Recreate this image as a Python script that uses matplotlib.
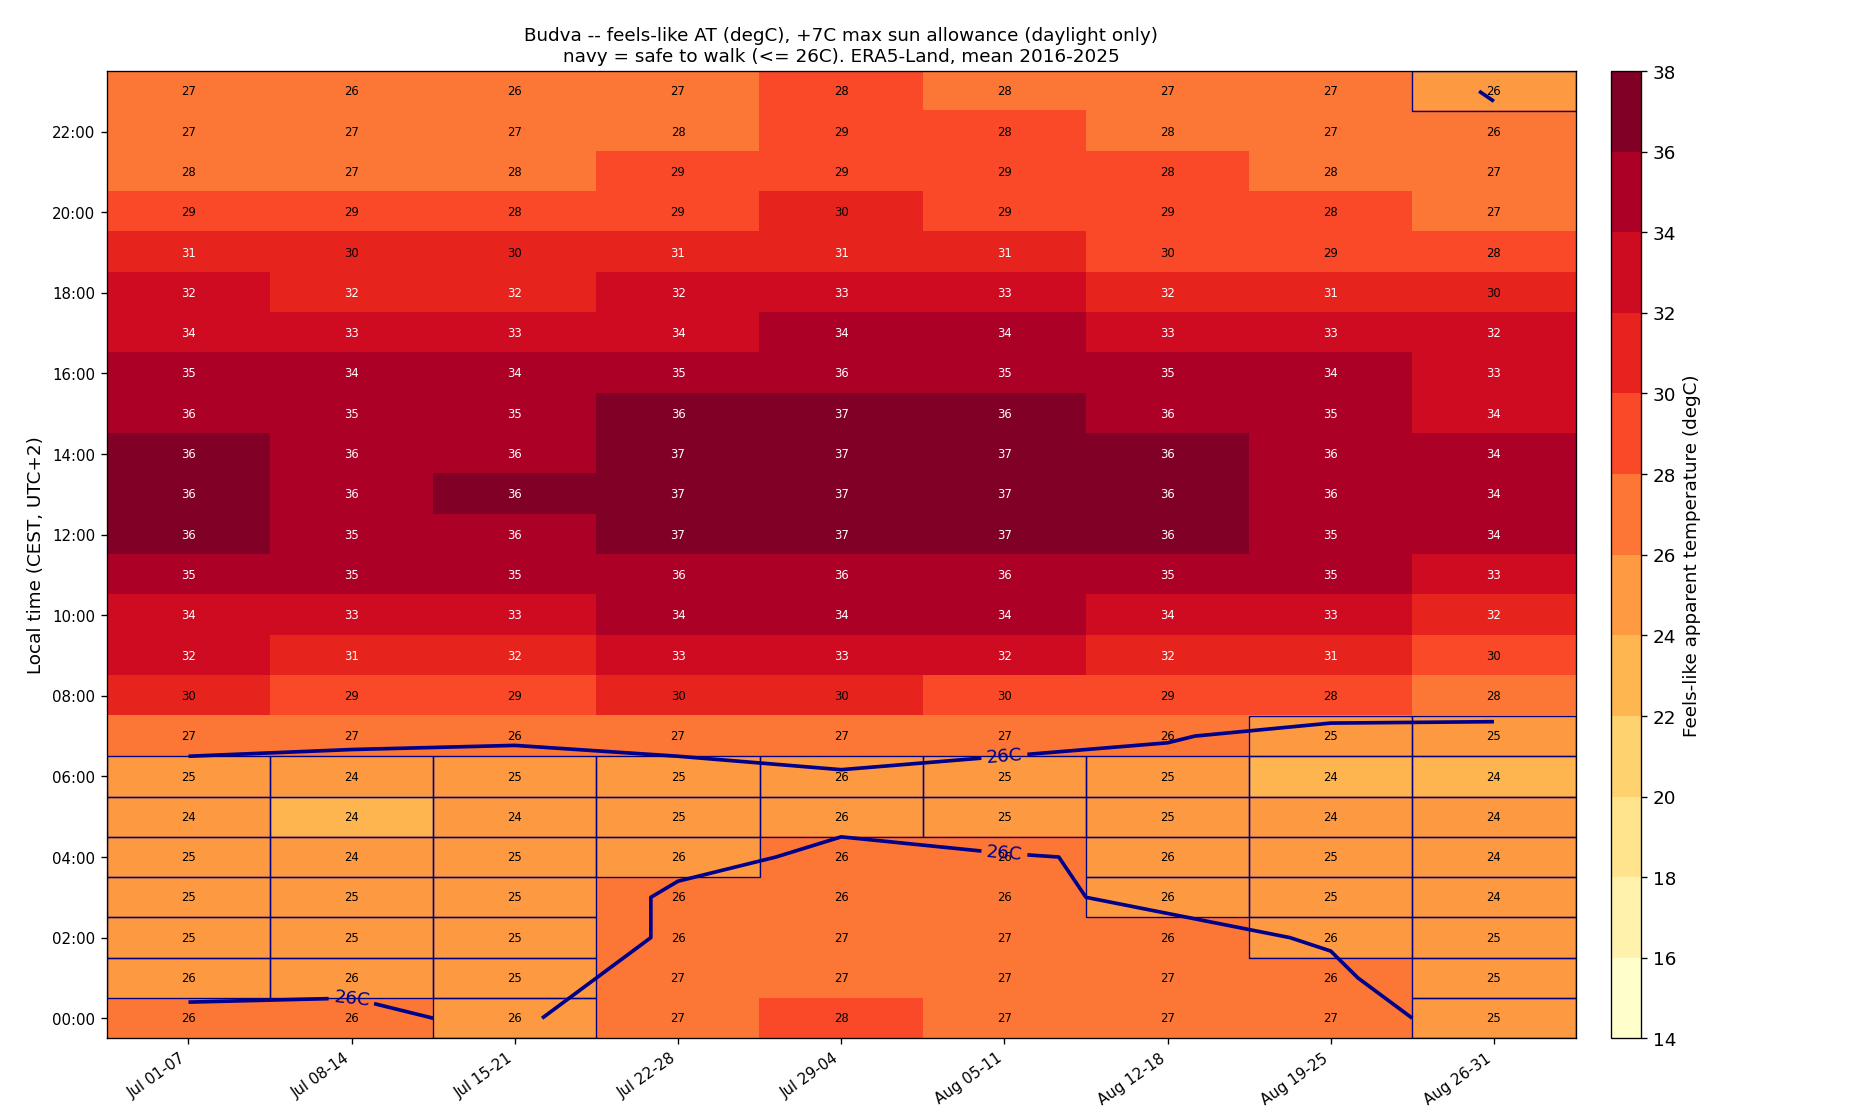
import numpy as np
import matplotlib
matplotlib.use('Agg')
import matplotlib.pyplot as plt
from matplotlib.colors import BoundaryNorm
from matplotlib.patches import Rectangle

weeks = ["Jul 01-07", "Jul 08-14", "Jul 15-21", "Jul 22-28", "Jul 29-04",
         "Aug 05-11", "Aug 12-18", "Aug 19-25", "Aug 26-31"]

# feels-like temperature, rows = local hour 0..23, cols = weeks
at = np.array([
    [26.2, 26.2, 25.8, 27.0, 28.0, 27.0, 27.0, 27.0, 25.0],  # 00
    [25.7, 25.8, 25.0, 27.0, 27.0, 27.0, 27.0, 26.2, 25.0],  # 01
    [25.0, 25.0, 25.0, 26.2, 27.0, 27.0, 26.3, 25.9, 25.0],  # 02
    [25.0, 25.0, 25.0, 26.2, 26.2, 26.2, 25.8, 25.0, 24.0],  # 03
    [25.0, 24.0, 25.0, 25.7, 26.2, 26.1, 25.8, 25.0, 24.0],  # 04
    [24.2, 23.8, 24.0, 25.0, 25.8, 25.0, 25.0, 24.0, 24.0],  # 05
    [25.0, 24.0, 25.0, 25.0, 25.8, 25.0, 25.0, 23.9, 23.9],  # 06
    [27.0, 27.0, 26.3, 27.0, 27.0, 27.0, 26.2, 25.0, 25.0],  # 07
    [30.2, 29.0, 29.0, 30.1, 30.2, 29.8, 29.0, 28.1, 27.8],  # 08
    [32.2, 31.0, 31.8, 33.0, 33.0, 32.2, 31.8, 31.0, 29.8],  # 09
    [33.8, 33.0, 33.0, 34.1, 34.2, 34.1, 33.8, 33.0, 31.8],  # 10
    [35.0, 35.0, 35.0, 35.8, 35.7, 35.8, 35.0, 35.0, 33.0],  # 11
    [36.1, 35.0, 35.8, 37.0, 37.0, 37.0, 36.1, 35.0, 34.2],  # 12
    [36.3, 35.8, 36.1, 37.0, 37.0, 37.0, 36.2, 35.9, 34.1],  # 13
    [36.2, 35.8, 35.9, 37.0, 37.0, 37.0, 36.1, 35.7, 34.2],  # 14
    [35.8, 35.0, 35.0, 36.1, 37.0, 36.2, 35.8, 35.0, 33.8],  # 15
    [35.0, 34.2, 34.1, 35.0, 35.7, 35.0, 35.0, 34.3, 33.0],  # 16
    [33.8, 33.0, 33.0, 33.7, 34.2, 34.1, 33.0, 33.0, 32.2],  # 17
    [32.2, 31.8, 31.8, 32.1, 33.0, 33.0, 31.9, 31.0, 30.0],  # 18
    [31.0, 30.2, 30.2, 31.0, 31.0, 31.0, 29.8, 29.0, 28.2],  # 19
    [29.0, 29.0, 28.3, 29.0, 30.0, 29.0, 29.0, 28.1, 27.0],  # 20
    [27.8, 27.0, 27.7, 29.0, 29.0, 29.0, 28.2, 27.8, 27.0],  # 21
    [27.0, 27.0, 27.0, 27.8, 29.0, 28.2, 27.9, 27.0, 26.3],  # 22
    [27.0, 26.0 + 0.2, 26.2, 27.0, 28.2, 27.8, 27.0, 27.0, 25.9],  # 23
])

levels = np.arange(14, 40, 2)
threshold = 26

fig = plt.figure(figsize=(15.63, 9.33), dpi=120)
ax = fig.add_axes([0.057, 0.072, 0.783, 0.864])
cax = fig.add_axes([0.859, 0.072, 0.016, 0.864])

cmap = plt.get_cmap('YlOrRd', len(levels) - 1)
norm = BoundaryNorm(levels, cmap.N)
nh, nw = at.shape
im = ax.imshow(at, origin='lower', aspect='auto', cmap=cmap, norm=norm,
               extent=(-0.5, nw - 0.5, -0.5, nh - 0.5))

for h in range(nh):
    for w in range(nw):
        v = at[h, w]
        ax.text(w, h, f"{v:.0f}", ha='center', va='center', fontsize=7,
                color='white' if v >= 30.5 else 'black')
        if v <= threshold:
            ax.add_patch(Rectangle((w - 0.5, h - 0.5), 1, 1, fill=False,
                                   edgecolor='navy', lw=0.8))

cs = ax.contour(np.arange(nw), np.arange(nh), at, levels=[threshold],
                colors='darkblue', linewidths=2.2)
ax.clabel(cs, fmt={threshold: "26C"}, fontsize=11)

ax.set_xlim(-0.5, nw - 0.5)
ax.set_ylim(-0.5, nh - 0.5)
ax.set_xticks(range(nw))
ax.set_xticklabels(weeks, rotation=35, ha='right', fontsize=9)
ax.set_yticks(range(0, 24, 2))
ax.set_yticklabels([f"{h:02d}:00" for h in range(0, 24, 2)], fontsize=9)
ax.set_ylabel("Local time (CEST, UTC+2)", fontsize=11)
ax.set_title("Budva -- feels-like AT (degC), +7C max sun allowance (daylight only)\n"
             "navy = safe to walk (<= 26C). ERA5-Land, mean 2016-2025", fontsize=11)

cb = fig.colorbar(im, cax=cax, ticks=levels)
cb.set_label("Feels-like apparent temperature (degC)", fontsize=11)
cb.ax.tick_params(labelsize=11)

fig.savefig("out.png", dpi=120)
